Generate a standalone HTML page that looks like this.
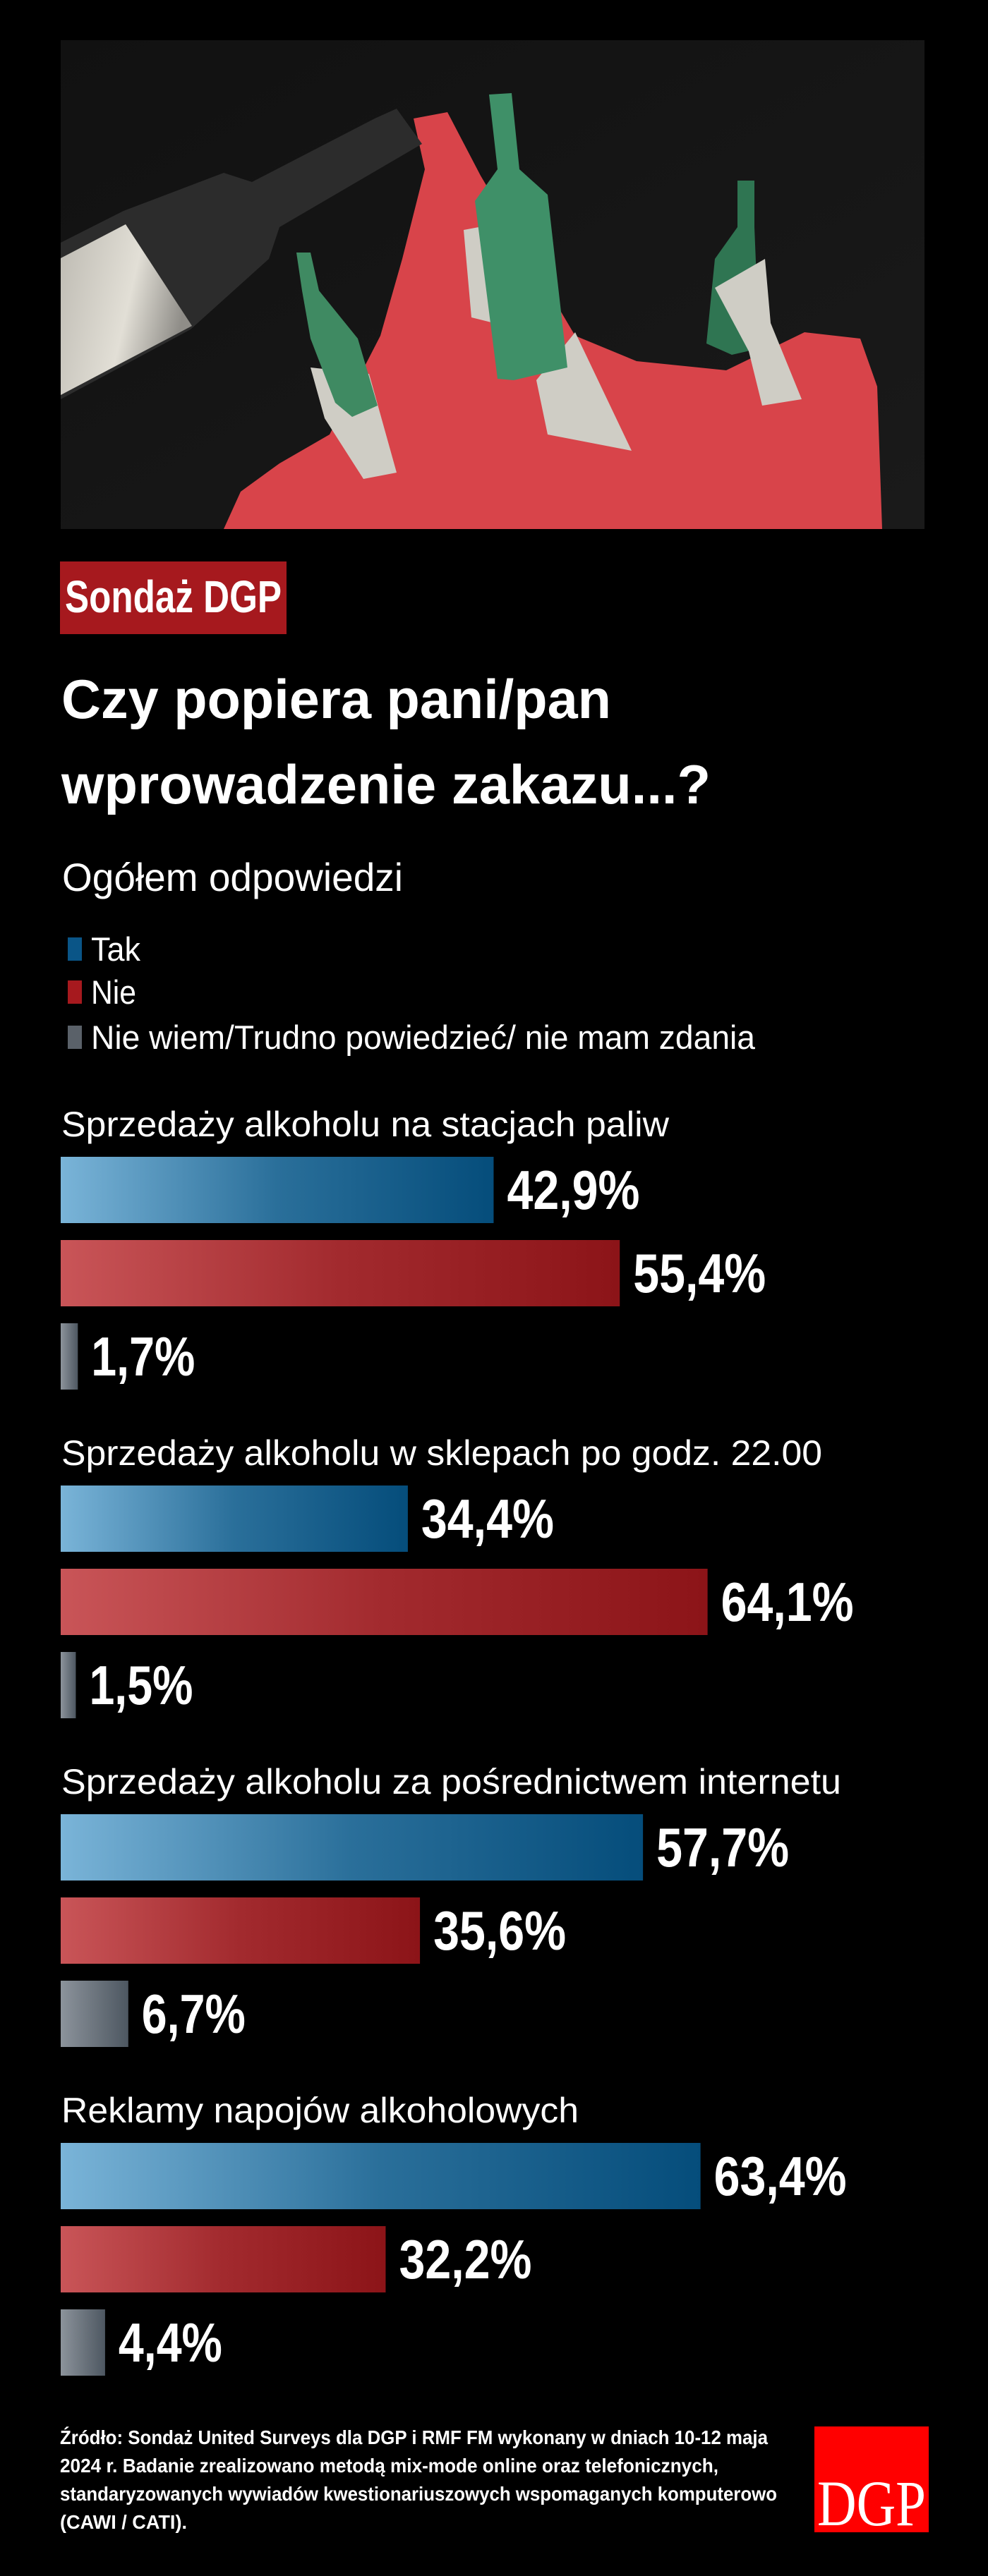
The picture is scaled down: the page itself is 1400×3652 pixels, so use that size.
<!DOCTYPE html>
<html><head><meta charset="utf-8"><style>
html,body{margin:0;padding:0;background:#000;}
svg{display:block;}
text{font-family:"Liberation Sans Narrow","Liberation Sans",sans-serif;}
</style></head><body>
<svg id="chart" width="1400" height="3652" viewBox="0 0 1400 3652" xmlns="http://www.w3.org/2000/svg">
<defs>
<linearGradient id="gTak" x1="0" x2="1" y1="0" y2="0"><stop offset="0" stop-color="#7ab4d8"/><stop offset="0.5" stop-color="#2a6f9a"/><stop offset="1" stop-color="#054d7b"/></linearGradient>
<linearGradient id="gNie" x1="0" x2="1" y1="0" y2="0"><stop offset="0" stop-color="#c95558"/><stop offset="0.5" stop-color="#a22a2e"/><stop offset="1" stop-color="#8c1418"/></linearGradient>
<linearGradient id="gDk" x1="0" x2="1" y1="0" y2="0"><stop offset="0" stop-color="#8c939b"/><stop offset="1" stop-color="#4d5761"/></linearGradient>
<linearGradient id="gLabel" x1="0" x2="1" y1="0" y2="0.3"><stop offset="0" stop-color="#bdbab2"/><stop offset="0.6" stop-color="#e2dfd6"/><stop offset="1" stop-color="#8f8d88"/></linearGradient>
<linearGradient id="gBg" x1="0" x2="1" y1="0" y2="1"><stop offset="0" stop-color="#111"/><stop offset="1" stop-color="#1a1a1a"/></linearGradient>
</defs>
<rect x="0" y="0" width="1400" height="3652" fill="#000"/>

<g>
<rect x="86" y="57" width="1224" height="693" fill="url(#gBg)"/>
<polygon fill="#d8444a" points="586,168 634,159 681,249 815,476 902,512 1029,525 1140,471 1219,480 1243,548 1250,750 317,750 341,697 396,657 467,616 539,476 570,367 602,240"/>
<polygon fill="#2c2c2c" points="86,344 175,299 317,245 357,258 531,168 562,154 598,204 396,322 381,367 270,467 86,566"/>
<polygon fill="url(#gLabel)" points="86,366 178,318 272,462 86,560"/>
<polygon fill="#cfcdc5" points="760,539 815,471 895,639 776,616"/>
<polygon fill="#cfcdc5" points="657,326 689,320 700,458 668,450"/>
<polygon fill="#3f9068" points="693,134 725,132 736,240 776,276 804,521 728,539 705,537 673,285 705,240"/>
<polygon fill="#cfcdc5" points="440,521 523,530 562,670 515,679 460,593"/>
<polygon fill="#3f8a62" points="420,358 440,358 452,412 507,480 535,575 499,591 475,571 440,480 428,412"/>
<polygon fill="#2f7552" points="1045,256 1069,256 1069,322 1076,494 1037,503 1001,487 1013,367 1045,322"/>
<polygon fill="#cfcdc5" points="1013,408 1084,367 1092,458 1136,566 1080,575 1061,498"/>
</g>

<rect x="85" y="796" width="321" height="103" fill="#a6191e"/>
<text x="92" y="868" font-size="64" font-weight="bold" fill="#fff" textLength="307" lengthAdjust="spacingAndGlyphs">Sondaż DGP</text>

<text x="87" y="1018" font-size="78" font-weight="bold" fill="#fff" textLength="779" lengthAdjust="spacingAndGlyphs">Czy popiera pani/pan</text>
<text x="87" y="1139" font-size="78" font-weight="bold" fill="#fff" textLength="920" lengthAdjust="spacingAndGlyphs">wprowadzenie zakazu...?</text>
<text x="88" y="1263" font-size="56" fill="#fff" textLength="483" lengthAdjust="spacingAndGlyphs">Ogółem odpowiedzi</text>

<g>
<rect x="96" y="1329" width="20" height="33" fill="#0a5587"/>
<text x="129" y="1362" font-size="47" fill="#fff" textLength="70" lengthAdjust="spacingAndGlyphs">Tak</text>
<rect x="96" y="1390" width="20" height="33" fill="#a6191e"/>
<text x="129" y="1423" font-size="47" fill="#fff" textLength="64" lengthAdjust="spacingAndGlyphs">Nie</text>
<rect x="96" y="1454" width="20" height="33" fill="#5a6169"/>
<text x="129" y="1487" font-size="47" fill="#fff" textLength="941" lengthAdjust="spacingAndGlyphs">Nie wiem/Trudno powiedzieć/ nie mam zdania</text>
</g>

<g id="bars"></g>

<text x="85" y="3465" font-size="28" font-weight="bold" fill="#fff" textLength="1003" lengthAdjust="spacingAndGlyphs">Źródło: Sondaż United Surveys dla DGP i RMF FM wykonany w dniach 10-12 maja</text>
<text x="85" y="3505" font-size="28" font-weight="bold" fill="#fff" textLength="933" lengthAdjust="spacingAndGlyphs">2024 r. Badanie zrealizowano metodą mix-mode online oraz telefonicznych,</text>
<text x="85" y="3545" font-size="28" font-weight="bold" fill="#fff" textLength="1016" lengthAdjust="spacingAndGlyphs">standaryzowanych wywiadów kwestionariuszowych wspomaganych komputerowo</text>
<text x="85" y="3585" font-size="28" font-weight="bold" fill="#fff" textLength="180" lengthAdjust="spacingAndGlyphs">(CAWI / CATI).</text>

<rect x="1154" y="3440" width="162" height="150" fill="#ff0000"/>
<text x="1158" y="3580" font-size="92" fill="#fff" style="font-family:'Liberation Serif',serif" textLength="154" lengthAdjust="spacingAndGlyphs">DGP</text>
</svg>
<script>
const categories = ["Sprzedaży alkoholu na stacjach paliw","Sprzedaży alkoholu w sklepach po godz. 22.00","Sprzedaży alkoholu za pośrednictwem internetu","Reklamy napojów alkoholowych"];
const takValues = [42.9, 34.4, 57.7, 63.4];
const nieValues = [55.4, 64.1, 35.6, 32.2];
const dkValues = [1.7, 1.5, 6.7, 4.4];
const seriesNames = ["tak","nie","nie-wiem"];

(function(){
  const NS = "http://www.w3.org/2000/svg";
  const g = document.getElementById("bars");
  const x0 = 86, pxPerPct = 14.3;
  const xScale = v => v * pxPerPct;
  const sectionY = i => 1640 + 466 * i;
  const barH = 94, rowGap = 118;
  const fills = ["url(#gTak)","url(#gNie)","url(#gDk)"];
  const titleWidths = [861, 1078, 1105, 733];
  const series = [takValues, nieValues, dkValues];
  categories.forEach((cat, i) => {
    const y0 = sectionY(i);
    const t = document.createElementNS(NS, "text");
    
    
    t.setAttribute("x", 87); t.setAttribute("y", y0 - 29);
    t.setAttribute("font-size", "50"); t.setAttribute("fill", "#fff");
    t.setAttribute("textLength", titleWidths[i]); t.setAttribute("lengthAdjust", "spacingAndGlyphs");
    t.textContent = cat;
    g.appendChild(t);
    series.forEach((vals, s) => {
      const v = vals[i];
      const y = y0 + s * rowGap;
      const w = xScale(v);
      const r = document.createElementNS(NS, "rect");
      
      
      r.setAttribute("x", x0); r.setAttribute("y", y);
      r.setAttribute("width", w); r.setAttribute("height", barH);
      r.setAttribute("fill", fills[s]);
      g.appendChild(r);
      const lbl = v.toFixed(1).replace(".", ",") + "%";
      const l = document.createElementNS(NS, "text");
      
      
      l.setAttribute("x", x0 + w + 19); l.setAttribute("y", y + 74);
      l.setAttribute("font-size", "78"); l.setAttribute("font-weight", "bold"); l.setAttribute("fill", "#fff");
      l.setAttribute("textLength", lbl.length >= 5 ? 188 : 147); l.setAttribute("lengthAdjust", "spacingAndGlyphs");
      l.textContent = lbl;
      g.appendChild(l);
    });
  });
})();
</script>
</body></html>
